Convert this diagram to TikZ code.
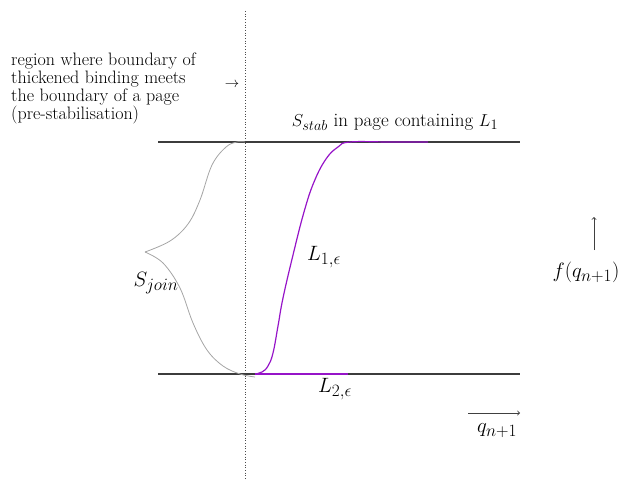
\documentclass[tikz,border=0pt]{standalone}
\usepackage{tikz}
\DeclareMathSizes{22}{22}{17}{13}
\DeclareMathSizes{19}{19}{15}{11}
\definecolor{leg}{RGB}{150,20,200}
\definecolor{pageline}{RGB}{60,60,60}
\definecolor{joinc}{RGB}{165,165,165}
\begin{document}
\begin{tikzpicture}[x=1pt,y=-1pt,
  lbl/.style={inner sep=0pt,font=\fontsize{18}{18}\selectfont},
  mlbl/.style={inner sep=0pt,font=\fontsize{22}{22}\selectfont},
  pagel/.style={draw=pageline,line width=1.1pt},
  legc/.style={draw=leg,line width=1.2pt},
  joinl/.style={draw=joinc,line width=0.8pt},
  axarr/.style={draw=black!75,line width=0.9pt,->}]
\useasboundingbox (0,0) rectangle (621,480);
% dotted vertical line
\coordinate (dT) at (245,11);
\coordinate (dB) at (245,480);
\draw[dotted,line width=0.7pt,black!70] (dT) -- (dB);
% page lines
\coordinate (tL) at (158,142);
\coordinate (tR) at (520,142);
\coordinate (bL) at (158,374);
\coordinate (bR) at (520,374);
\draw[pagel] (tL) -- (tR);
\draw[pagel] (bL) -- (bR);
% S_join curve
\draw[joinl] plot[smooth,tension=0.6] coordinates {(145,252) (170,241) (188,224) (200,200) (212,165) (226,147) (237,142) (245,142)};
\draw[joinl] plot[smooth,tension=0.6] coordinates {(145,252) (163,263) (180,288) (193,323) (207,350) (223,366) (240,374) (255,377)};
% L_{1,eps}
\draw[legc] plot[smooth,tension=0.7] coordinates {(255,374) (262,372) (268,366) (273,353) (278,326) (283,298) (293,255) (304,212) (314,182) (326,159) (338,147) (350,142) (390,142) (428,142)};
\coordinate (l2a) at (255,374);
\coordinate (l2b) at (348,374);
\draw[legc] (l2a) -- (l2b);
% labels
\node[inner sep=0pt,font=\fontsize{19}{19}\selectfont] (stab) at (395,122) {$S_{stab}$ in page containing $L_1$};
\node[mlbl] (l1) at (324,257) {$L_{1,\epsilon}$};
\node[mlbl] (l2) at (335,389) {$L_{2,\epsilon}$};
\node[mlbl] (sj) at (156,283) {$S_{join}$};
\node[lbl,align=left,anchor=north west] (reg) at (11,53) {region where boundary of\\thickened binding meets\\the boundary of a page\\(pre-stabilisation)};
\node[inner sep=0pt,font=\fontsize{15}{15}\selectfont] (rarr) at (232,85) {$\rightarrow$};
% axes
\coordinate (fa) at (594,250);
\coordinate (fb) at (594,217);
\draw[axarr] (fa) -- (fb);
\node[mlbl] (fq) at (586,272) {$f(q_{n+1})$};
\coordinate (qa) at (468,413);
\coordinate (qb) at (520,413);
\draw[axarr] (qa) -- (qb);
\node[mlbl] (qq) at (497,431) {$q_{n+1}$};
\end{tikzpicture}
\end{document}
